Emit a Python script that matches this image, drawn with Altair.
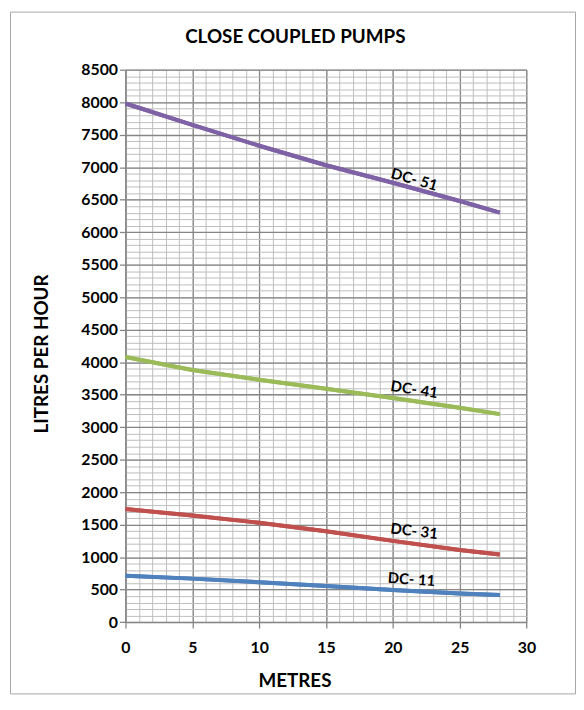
import altair as alt
import pandas as pd

metres = [0, 5, 10, 15, 20, 25, 28]
dc51 = [7980, 7650, 7330, 7030, 6760, 6480, 6300]
dc41 = [4080, 3880, 3730, 3590, 3450, 3300, 3200]
dc31 = [1740, 1640, 1530, 1400, 1250, 1110, 1040]
dc11 = [715, 670, 615, 555, 495, 440, 418]

series_names = ["DC- 51", "DC- 41", "DC- 31", "DC- 11"]
series_vals = [dc51, dc41, dc31, dc11]
series_colors = ["#7F62A6", "#9BBB59", "#C0504D", "#4F81BD"]

label_x = [21.6, 21.6, 21.6, 21.4]
label_y = [6810, 3580, 1400, 655]
label_angle = [16, 9, 7, 4]

x_minor = list(range(0, 31, 1))
x_major = list(range(0, 31, 5))
y_minor = list(range(0, 8501, 100))
y_major = list(range(0, 8501, 500))

rows = []
for name, vals in zip(series_names, series_vals):
    for m, v in zip(metres, vals):
        rows.append({"series": name, "metres": m, "lph": v})
df = pd.DataFrame(rows)

FONT = "Lato"
W, H = 405.3, 558.3

xs = alt.Scale(domain=[0, 30], nice=False, zero=False)
ys = alt.Scale(domain=[0, 8500], nice=False)
color = alt.Color("series:N", scale=alt.Scale(domain=series_names, range=series_colors), legend=None)

minor_x_axis = alt.Axis(values=x_minor, grid=True, gridColor="#bdbdbd", gridWidth=1,
                        labels=False, ticks=False, domain=False, title=None, orient="bottom")
minor_y_axis = alt.Axis(values=y_minor, grid=True, gridColor="#bdbdbd", gridWidth=1,
                        labels=False, ticks=False, domain=False, title=None, orient="left")

major_x_axis = alt.Axis(values=x_major, grid=True, gridColor="#868686", gridWidth=1.3,
                        domainColor="#868686", domainWidth=1.3, tickColor="#868686", tickWidth=1.3,
                        tickSize=6, labelPadding=12, labelFont=FONT, labelFontSize=16,
                        labelFontWeight="bold", labelColor="#000000", title="METRES",
                        titleFont=FONT, titleFontSize=19, titleFontWeight="bold", titleColor="#000000",
                        titleX=170.8, titleY=65, titleBaseline="alphabetic", titleAlign="center",
                        titleAnchor="start", orient="bottom", labelFlush=False, format="d")
major_y_axis = alt.Axis(values=y_major, grid=True, gridColor="#868686", gridWidth=1.3,
                        domainColor="#868686", domainWidth=1.3, tickColor="#868686", tickWidth=1.3,
                        tickSize=6, labelPadding=2, labelFont=FONT, labelFontSize=16,
                        labelFontWeight="bold", labelColor="#000000", title="LITRES PER HOUR",
                        titleFont=FONT, titleFontSize=19, titleFontWeight="bold", titleColor="#000000",
                        titleX=-78.7, titleY=286.8, titleBaseline="alphabetic", titleAlign="center",
                        titleAngle=270, orient="left", labelFlush=False, format="d")

frame = alt.Chart(pd.DataFrame({"k": [0]})).mark_rect(
    fillOpacity=0, stroke="#a6a6a6", strokeWidth=1
).encode(x=alt.value(-116.2), y=alt.value(-58.2), x2=alt.value(454.8), y2=alt.value(630.8))

lines_minor = alt.Chart(df).mark_line(strokeWidth=4).encode(
    x=alt.X("metres:Q", scale=xs, axis=minor_x_axis),
    y=alt.Y("lph:Q", scale=ys, axis=minor_y_axis),
    color=color,
    detail="series:N",
)

lines_major = alt.Chart(df).mark_line(strokeWidth=4).encode(
    x=alt.X("metres:Q", scale=xs, axis=major_x_axis),
    y=alt.Y("lph:Q", scale=ys, axis=major_y_axis),
    color=color,
    detail="series:N",
)

labels = []
for name, lx, ly, ang in zip(series_names, label_x, label_y, label_angle):
    t = alt.Chart(pd.DataFrame({"name": [name], "x": [lx], "y": [ly]})).mark_text(
        font=FONT, fontSize=15, fontWeight="bold", color="#000000", angle=ang,
        align="center", baseline="middle"
    ).encode(
        x=alt.X("x:Q", scale=xs, axis=None),
        y=alt.Y("y:Q", scale=ys, axis=None),
        text="name:N",
    )
    labels.append(t)

chart = alt.layer(frame, lines_minor, lines_major, *labels).resolve_axis(
    x="independent", y="independent"
).properties(
    width=W, height=H,
    title=alt.TitleParams("CLOSE COUPLED PUMPS", font=FONT, fontSize=19, fontWeight="bold",
                          color="#000000", frame="group", anchor="middle", dx=-31,
                          baseline="alphabetic", offset=0, dy=50.5),
    autosize=alt.AutoSizeParams(type="none"),
    padding={"left": 118.7, "top": 58.7, "right": 50, "bottom": 73},
).configure_view(stroke=None).configure(background="white")

chart.save("out.html", embed_options={"renderer": "svg", "actions": False})
